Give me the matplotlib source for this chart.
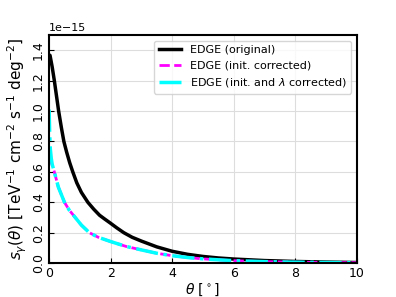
import matplotlib
matplotlib.use("Agg")
import matplotlib.pyplot as plt

# angle in degrees and surface brightness (units of 1e-15)
theta_orig = [0.0, 0.03, 0.1, 0.17, 0.24, 0.31, 0.4, 0.48, 0.57, 0.67, 0.77, 0.9, 1.05, 1.26, 1.45, 1.64, 1.8, 2.0, 2.2, 2.43,
              2.7, 3.0, 3.5, 4.0, 4.5, 5.0, 5.5, 6.0, 7.0, 8.0, 9.0, 10.0]
s_orig = [1.37, 1.366, 1.29, 1.2, 1.1, 1.0, 0.89, 0.8, 0.73, 0.66, 0.6, 0.528, 0.465, 0.4, 0.355, 0.315, 0.291, 0.262, 0.232,
          0.2, 0.17, 0.145, 0.107, 0.078, 0.058, 0.044, 0.034, 0.027, 0.017, 0.011, 0.007, 0.004]

theta_init = [0.0, 0.04, 0.1, 0.17, 0.3, 0.4, 0.5, 0.65, 0.83, 1.05, 1.31, 1.6, 2.0, 2.5, 3.0, 3.5, 4.0, 4.5, 5.0, 6.0, 7.0,
              8.0, 9.0, 10.0]
s_init = [0.70, 0.68, 0.645, 0.6, 0.5, 0.45, 0.4, 0.35, 0.305, 0.25, 0.2, 0.17, 0.142, 0.11, 0.087, 0.065, 0.049, 0.037,
          0.028, 0.016, 0.01, 0.006, 0.004, 0.003]

theta_lam = [0.0, 0.01, 0.02, 0.04, 0.07, 0.1, 0.17, 0.3, 0.4, 0.5, 0.65, 0.83, 1.05, 1.31, 1.6, 2.0, 2.5, 3.0, 3.5, 4.0,
             4.5, 5.0, 6.0, 7.0, 8.0, 9.0, 10.0]
s_lam = [1.01, 0.93, 0.85, 0.75, 0.69, 0.65, 0.6, 0.5, 0.45, 0.4, 0.35, 0.305, 0.25, 0.2, 0.17, 0.142, 0.11, 0.087, 0.065,
         0.049, 0.037, 0.028, 0.016, 0.01, 0.006, 0.004, 0.003]

scale = 1e-15

fig, ax = plt.subplots(figsize=(3.96, 2.97), dpi=100)
fig.subplots_adjust(left=0.124, right=0.901, top=0.882, bottom=0.114)

ax.plot(theta_orig, [v * scale for v in s_orig], color='black', lw=2.5, label='EDGE (original)')
ax.plot(theta_init, [v * scale for v in s_init], color='magenta', lw=2, ls='--', label='EDGE (init. corrected)')
ax.plot(theta_lam, [v * scale for v in s_lam], color='cyan', lw=2.5, ls='-.', label=r'EDGE (init. and $\lambda$ corrected)')

ax.set_xlim(0, 10)
ax.set_ylim(0, 1.5e-15)
ax.set_xlabel(r'$\theta$ [$^\circ$]', fontsize=10, labelpad=1)
ax.set_ylabel(r'$s_\gamma(\theta)$ [TeV$^{-1}$ cm$^{-2}$ s$^{-1}$ deg$^{-2}$]', fontsize=11, labelpad=2)
ax.tick_params(direction='in', labelsize=9, pad=3)
ax.yaxis.get_offset_text().set_fontsize(8)
for lbl in ax.get_yticklabels():
    lbl.set_rotation(90)
    lbl.set_va('center')
ax.grid(color='#dddddd', lw=0.8)
for sp in ax.spines.values():
    sp.set_linewidth(1.5)
ax.legend(fontsize=8, loc='upper right')

fig.savefig('out.png', dpi=100)
